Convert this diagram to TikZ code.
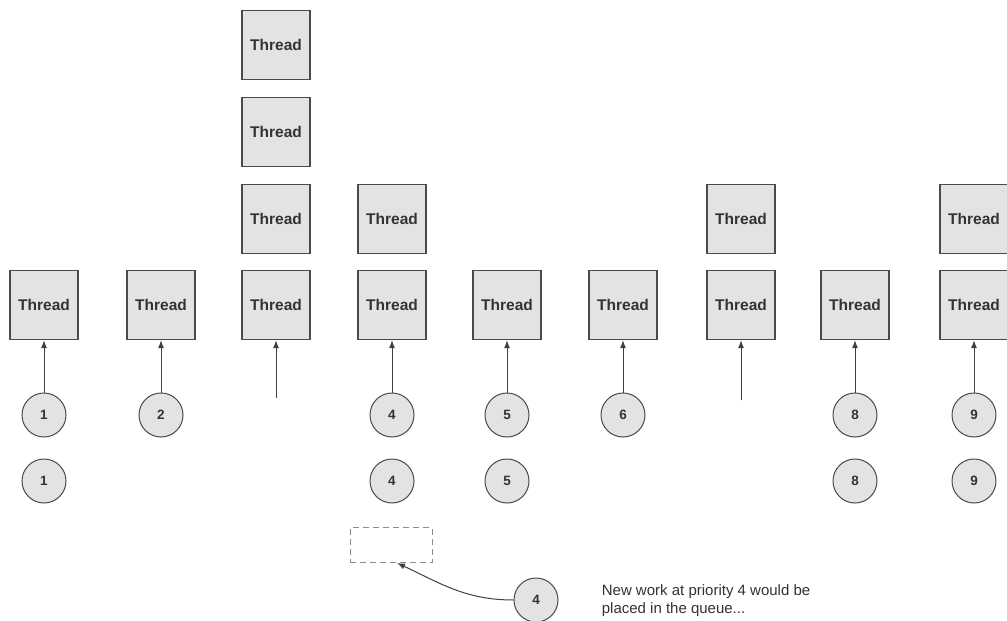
\documentclass[tikz,border=0pt]{standalone}
\usepackage{fontspec}
\setmainfont{Liberation Sans}
\usetikzlibrary{arrows.meta}
\definecolor{fillgray}{HTML}{E3E3E3}
\definecolor{linegray}{HTML}{4A4A4A}
\begin{document}
\begin{tikzpicture}[x=1pt, y=-1pt, >={Latex[length=8pt, width=6pt]}, line width=1pt,
    thread/.style={draw=linegray, line width=1.3pt, fill=fillgray, rectangle, minimum width=68pt, minimum height=69pt, font=\fontsize{15.5}{17}\selectfont\bfseries, text=black!80},
    prio/.style={draw=linegray, fill=fillgray, circle, minimum size=44pt, inner sep=0pt, font=\fontsize{13.5}{15}\selectfont\bfseries, text=black!80},
    slot/.style={draw=black!45, dash pattern=on 6pt off 4pt, rectangle, minimum width=82pt, minimum height=35pt},
    link/.style={->, draw=black!75}]
    \useasboundingbox (0,0) rectangle (1007,621);
    \newcommand\RA{305}
    \newcommand\RB{219}
    \newcommand\RC{132}
    \newcommand\RD{45}
    \newcommand\QA{415}
    \newcommand\QB{481}
    % threads per priority
    \node[thread] (T1a) at (44, \RA){Thread};
    \node[thread] (T2a) at (161, \RA){Thread};
    \node[thread] (T3a) at (276, \RA){Thread};
    \node[thread] (T3b) at (276, \RB){Thread};
    \node[thread] (T3c) at (276, \RC){Thread};
    \node[thread] (T3d) at (276, \RD){Thread};
    \node[thread] (T4a) at (392, \RA){Thread};
    \node[thread] (T4b) at (392, \RB){Thread};
    \node[thread] (T5a) at (507, \RA){Thread};
    \node[thread] (T6a) at (623, \RA){Thread};
    \node[thread] (T7a) at (741, \RA){Thread};
    \node[thread] (T7b) at (741, \RB){Thread};
    \node[thread] (T8a) at (855, \RA){Thread};
    \node[thread] (T9a) at (974, \RA){Thread};
    \node[thread] (T9b) at (974, \RB){Thread};
    % queued work
    \node[prio] (P1a) at (44, \QA){1};
    \node[prio] (P1b) at (44, \QB){1};
    \node[prio] (P2a) at (161, \QA){2};
    \coordinate (P3a) at (276, 398);
    \node[prio] (P4a) at (392, \QA){4};
    \node[prio] (P4b) at (392, \QB){4};
    \node[prio] (P5a) at (507, \QA){5};
    \node[prio] (P5b) at (507, \QB){5};
    \node[prio] (P6a) at (623, \QA){6};
    \coordinate (P7a) at (741, 400);
    \node[prio] (P8a) at (855, \QA){8};
    \node[prio] (P8b) at (855, \QB){8};
    \node[prio] (P9a) at (974, \QA){9};
    \node[prio] (P9b) at (974, \QB){9};
    \foreach \c in {1,...,9}
      \draw[link] (P\c a) -- (T\c a);
    % new work
    \node[slot] (S) at (391, 545){};
    \node[prio] (N4) at (536, 600){4};
    \node[anchor=west, align=left, font=\fontsize{15}{18}\selectfont, text=black!80] (L) at (598, 601){New work at priority 4 would be\\placed in the queue...};
    \draw[link] (N4.west) to[out=180, in=-25] ([xshift=6pt]S.south);
\end{tikzpicture}
\end{document}
